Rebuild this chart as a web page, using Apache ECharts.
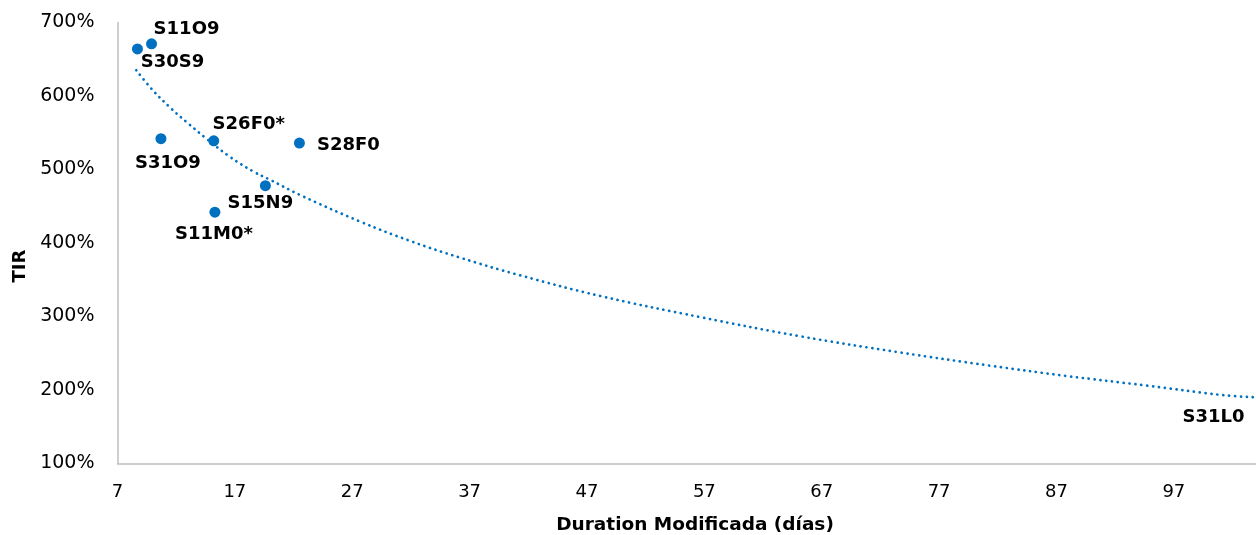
<!DOCTYPE html>
<html>
<head>
<meta charset="utf-8">
<script src="https://cdn.jsdelivr.net/npm/echarts@6/dist/echarts.min.js"></script>
<style>
html,body{margin:0;padding:0;background:#fff;}
#c{width:1256px;height:535px;}
</style>
</head>
<body>
<div id="c"></div>
<script>
// Bond labels
var bondNames = ['S11O9', 'S30S9', 'S31O9', 'S26F0*', 'S28F0', 'S15N9', 'S11M0*', 'S31L0'];
// Duration Modificada (días)
var durations = [9.9, 8.7, 10.7, 15.2, 22.5, 19.6, 15.3, 106];
// TIR (%)
var tirValues = [671, 664, 542, 539, 536, 478, 442, 188];
// Label offsets (px) relative to each point
var labelOffsets = [[35, -14], [35, 13], [7, 25], [35, -17], [49, 2], [-5, 18], [-1, 22], [-66, 19]];

// Trendline
var trendX = [8.6, 10.0, 11.5, 13.0, 14.5, 16.6, 18.6, 20.0, 22.6, 27.7, 31.9, 36.2, 41.3, 48.1, 56.7, 65.2, 73.7, 81.4, 87.9, 94.7, 101.2, 104];
var trendY = [635, 608, 584, 563, 543, 517, 497, 486, 465, 429, 403, 380, 356, 328, 299, 273, 251, 233, 219, 206, 193, 190];

var xTicks = [7, 17, 27, 37, 47, 57, 67, 77, 87, 97];
var yTicks = [100, 200, 300, 400, 500, 600, 700];

var blue = '#0070C0';
var fontFam = '"DejaVu Sans", sans-serif';

var scatterData = bondNames.map(function (n, i) {
  return {
    name: n,
    value: [durations[i], tirValues[i]],
    label: { offset: labelOffsets[i] }
  };
});
var trendData = trendX.map(function (x, i) { return [x, trendY[i]]; });

var chart = echarts.init(document.getElementById('c'));
chart.setOption({
  animation: false,
  backgroundColor: '#fff',
  grid: { left: 117.5, right: 0, top: 22.5, bottom: 71.5 },
  xAxis: {
    type: 'value',
    min: xTicks[0],
    max: 104,
    interval: 10,
    axisLine: { show: true, lineStyle: { color: '#BFBFBF', width: 1.5 } },
    axisTick: { show: false },
    splitLine: { show: false },
    axisLabel: {
      color: '#000', fontFamily: fontFam, fontSize: 18, margin: 20,
      showMaxLabel: false,
      formatter: function (v) { return xTicks.indexOf(v) >= 0 ? String(v) : ''; }
    }
  },
  yAxis: {
    type: 'value',
    min: yTicks[0],
    max: yTicks[yTicks.length - 1],
    interval: 100,
    axisLine: { show: true, lineStyle: { color: '#BFBFBF', width: 1.5 } },
    axisTick: { show: false },
    splitLine: { show: false },
    axisLabel: {
      color: '#000', fontFamily: fontFam, fontSize: 19, margin: 23,
      formatter: function (v) { return v + '%'; }
    }
  },
  graphic: [
    {
      type: 'text', x: 695, y: 525,
      style: { text: 'Duration Modificada (días)', fill: '#000', font: 'bold 18.5px ' + fontFam, align: 'center', verticalAlign: 'middle' }
    },
    {
      type: 'text', x: 20, y: 266, rotation: Math.PI / 2,
      style: { text: 'TIR', fill: '#000', font: 'bold 18px ' + fontFam, align: 'center', verticalAlign: 'middle' }
    }
  ],
  series: [
    {
      type: 'line',
      data: trendData,
      smooth: 0.4,
      showSymbol: false,
      symbol: 'none',
      silent: true,
      lineStyle: { color: blue, width: 2.7, type: [0.1, 5.8], cap: 'round', opacity: 1 },
      z: 1
    },
    {
      type: 'scatter',
      data: scatterData,
      clip: false,
      symbol: 'circle',
      symbolSize: 11,
      itemStyle: { color: blue, opacity: 1 },
      label: {
        show: true,
        position: 'inside',
        formatter: '{b}',
        color: '#000',
        opacity: 1,
        fontFamily: fontFam,
        fontWeight: 'bold',
        fontSize: 18
      },
      z: 3
    }
  ]
});
</script>
</body>
</html>
